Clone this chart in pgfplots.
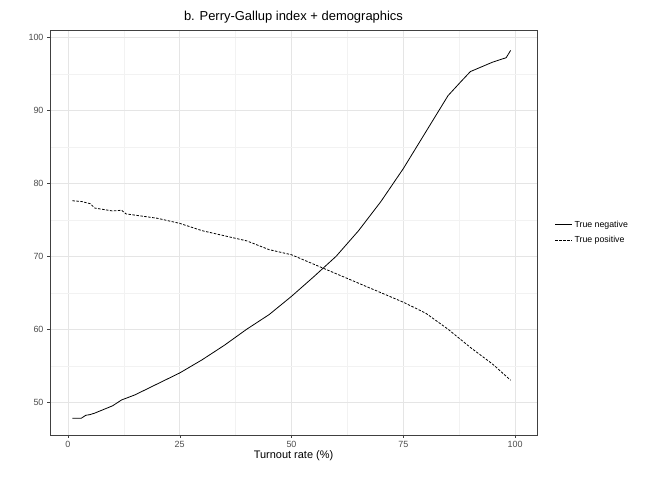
\documentclass[border=0pt]{standalone}
\usepackage{pgfplots}
\pgfplotsset{compat=1.18}
\usepackage{fontspec}
\setmainfont{Liberation Sans}
\begin{document}
\begin{tikzpicture}[x=1bp,y=1bp]
\path[use as bounding box] (0,0) rectangle (672,480);
\begin{axis}[at={(50bp,45bp)},anchor=south west,scale only axis,width=487bp,height=405bp,
xmin=-4.0,xmax=104.9,ymin=45.5,ymax=101,
xtick={0,25,50,75,100},ytick={50,60,70,80,90,100},
minor x tick num=1,minor y tick num=1,
grid=both,major grid style={color=black!10,line width=0.5pt},minor grid style={color=black!5,line width=0.3pt},
axis line style={color=black!75},tick style={color=black!75},major tick length=3bp,minor tick length=0pt,
tick align=outside,xtick pos=bottom,ytick pos=left,
ticklabel style={font=\fontsize{9}{10}\selectfont,text=black!70},
/pgf/number format/assume math mode=true,
xlabel={Turnout rate (\%)},xlabel style={font=\fontsize{11}{13}\selectfont,yshift=4bp},
title={b. Perry-Gallup index + demographics},title style={font=\fontsize{13}{15}\selectfont,yshift=-3bp},
legend style={at={(1.03,0.5)},anchor=west,draw=none,fill=none,font=\fontsize{8.8}{10}\selectfont,row sep=4bp},
legend cell align=left,
]
\addplot[black,line width=0.8pt] coordinates {(1,47.8)(3,47.8)(4,48.2)(5,48.3)(6,48.5)(10,49.5)(12,50.3)(15,51)(20,52.5)(25,54)(30,55.8)(35,57.8)(40,60)(45,62)(50,64.5)(55,67.2)(60,70)(65,73.5)(70,77.5)(75,82)(80,87)(85,92)(88,94)(90,95.3)(95,96.6)(98,97.2)(99,98.2)};
\addlegendentry{True negative}
\addplot[black,line width=0.8pt,dashed,dash pattern=on 2.5pt off 1.5pt] coordinates {(1,77.6)(3,77.5)(5,77.2)(6,76.6)(10,76.2)(12,76.3)(13,75.8)(20,75.2)(25,74.5)(30,73.5)(35,72.8)(40,72.1)(45,70.9)(50,70.2)(55,68.9)(60,67.6)(65,66.3)(70,65)(75,63.7)(80,62.2)(85,60)(90,57.5)(95,55.2)(99,53)};
\addlegendentry{True positive}
\end{axis}
\end{tikzpicture}
\end{document}
